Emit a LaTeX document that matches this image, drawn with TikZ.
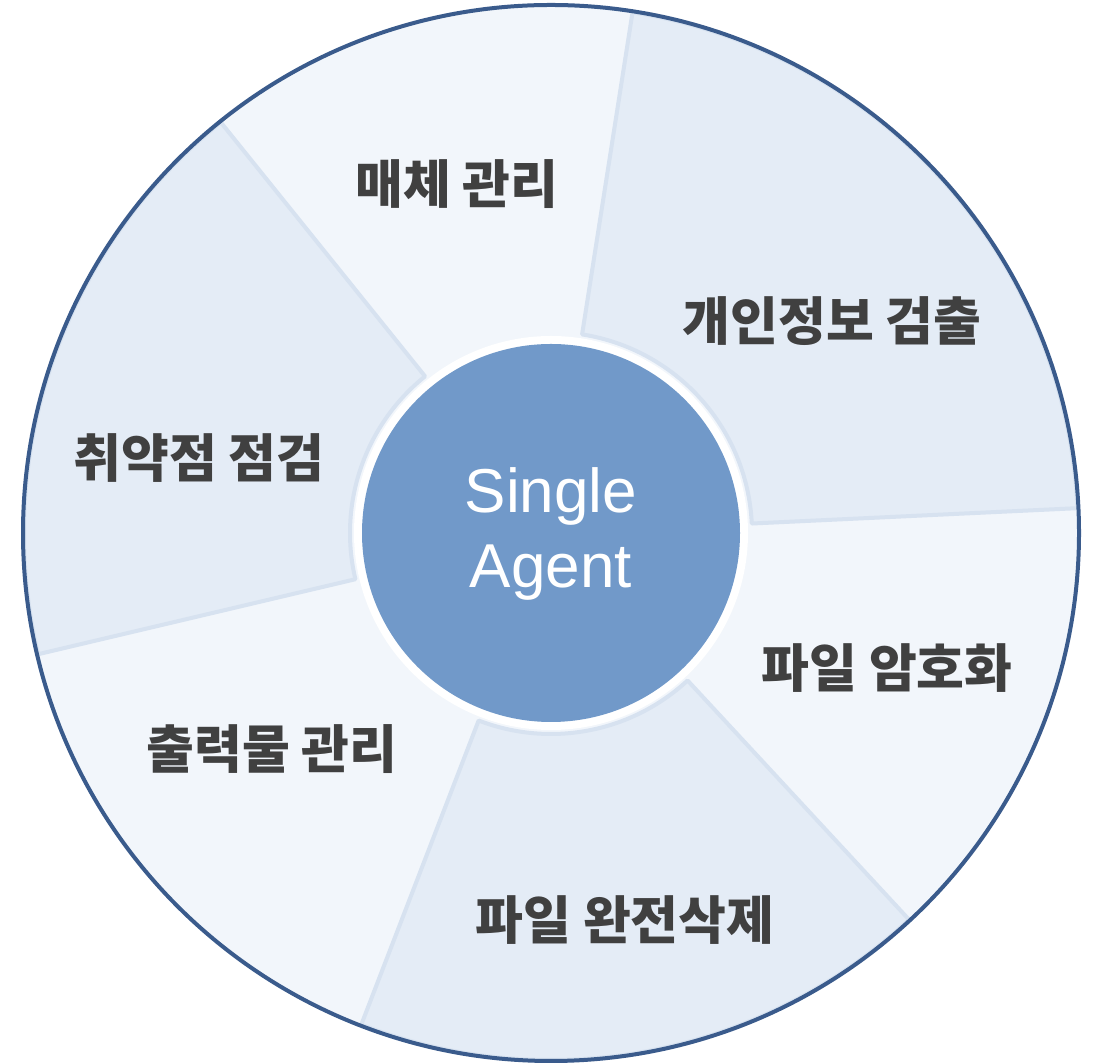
\documentclass[tikz,border=0pt]{standalone}
\usepackage{fontspec}
\setmainfont{Liberation Sans}
\newfontfamily\krfont{Noto Sans CJK KR}
\definecolor{lightsec}{HTML}{F2F6FB}
\definecolor{darksec}{HTML}{E4ECF6}
\definecolor{secline}{HTML}{D7E2F0}
\definecolor{rimblue}{HTML}{3A5B8C}
\definecolor{coreblue}{HTML}{7199C9}
\definecolor{labelgray}{HTML}{404040}
\begin{document}
\begin{tikzpicture}[x=1pt,y=1pt,
  darkpart/.style={fill=darksec, draw=secline, line width=4pt, line join=round},
  seclabel/.style={font=\krfont\bfseries\fontsize{52}{60}\selectfont, text=labelgray, inner sep=0pt},
  corelabel/.style={font=\fontsize{62}{74}\selectfont, text=white, inner sep=0pt, anchor=base}]
\useasboundingbox (0,0) rectangle (1094,1064);
\coordinate (C) at (551,531);
% background disk (light sectors)
\fill[lightsec] (C) circle[radius=528pt];
% darker sectors
\begin{scope}[shift={(C)}]
  \path[darkpart] (2.7:201pt) -- (2.7:527pt) arc[start angle=2.7, end angle=81.1, radius=527pt]
     -- (81.1:201pt) arc[start angle=81.1, end angle=2.7, radius=201pt] -- cycle;
  \path[darkpart] (-111.1:201pt) -- (-111.1:527pt) arc[start angle=-111.1, end angle=-47.2, radius=527pt]
     -- (-47.2:201pt) arc[start angle=-47.2, end angle=-111.1, radius=201pt] -- cycle;
  \path[darkpart] (128.8:201pt) -- (128.8:527pt) arc[start angle=128.8, end angle=193.3, radius=527pt]
     -- (193.3:201pt) arc[start angle=193.3, end angle=128.8, radius=201pt] -- cycle;
\end{scope}
% outer rim
\node[circle, draw=rimblue, line width=4pt, minimum size=1056pt, inner sep=0pt] (rim) at (C) {};
% core
\node[circle, fill=white, minimum size=394pt, inner sep=0pt] (halo) at (C) {};
\node[circle, fill=coreblue, minimum size=378pt, inner sep=0pt] (core) at (C) {};
\node[corelabel] (single) at (551,551) {Single};
\node[corelabel] (agent) at (551,476) {Agent};
% labels
\node[seclabel] (media) at (457,880) {매체 관리};
\node[seclabel] (privacy) at (832,743) {개인정보 검출};
\node[seclabel] (vuln) at (199,606) {취약점 점검};
\node[seclabel] (encrypt) at (887,396) {파일 암호화};
\node[seclabel] (print) at (272,315) {출력물 관리};
\node[seclabel] (wipe) at (625,144) {파일 완전삭제};
\end{tikzpicture}
\end{document}
